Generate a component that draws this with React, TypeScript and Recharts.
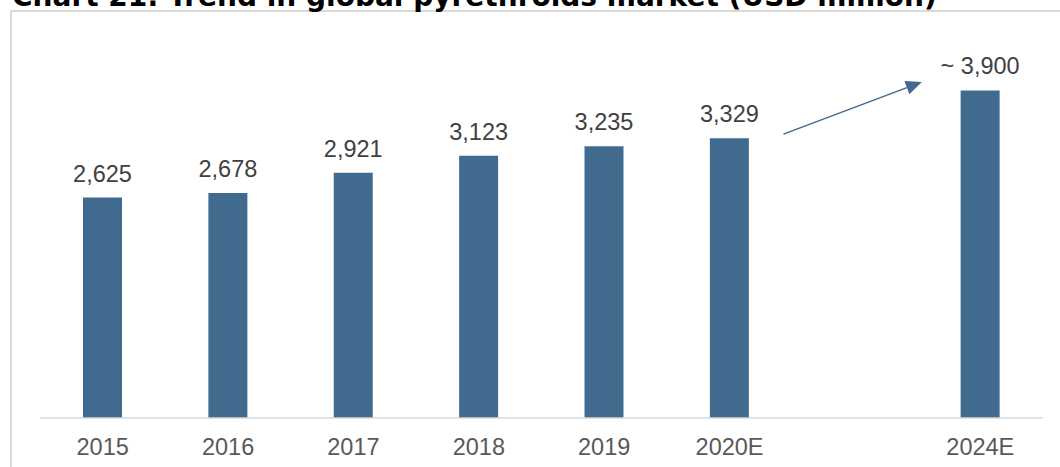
import { BarChart, Bar, XAxis, YAxis, LabelList, ReferenceLine } from "recharts";

const categories = ["2015", "2016", "2017", "2018", "2019", "2020E", " ", "2024E"];
const marketSize = [2625, 2678, 2921, 3123, 3235, 3329, null, 3900];
const approximate = [false, false, false, false, false, false, false, true];

// arrow between 2020E and 2024E, y in USD million
const arrowStart = { x: "2020E", y: 3380 };
const arrowEnd = { x: "2024E", y: 4000 };

const data = categories.map((year, i) => {
  const total = marketSize[i];
  let label: string | null = null;
  if (total != null) {
    const text = total.toLocaleString("en-US");
    // non-breaking space so the label stays on one line
    label = approximate[i] ? `~\u00A0${text}` : text;
  }
  return { year, total, label };
});

function TrendArrow(props: any) {
  const { x1, y1, x2, y2 } = props;
  const sx = x1 + (x2 - x1) * 0.215;
  const ex = x1 + (x2 - x1) * 0.767;
  const angle = Math.atan2(y2 - y1, ex - sx);
  const headLength = 16;
  const headHalf = 7;
  const cos = Math.cos(angle);
  const sin = Math.sin(angle);
  const bx = ex - headLength * cos;
  const by = y2 - headLength * sin;
  const points = [
    `${ex},${y2}`,
    `${bx - headHalf * sin},${by + headHalf * cos}`,
    `${bx + headHalf * sin},${by - headHalf * cos}`,
  ].join(" ");

  return (
    <g>
      <line x1={sx} y1={y1} x2={bx} y2={by} stroke="#41698F" strokeWidth={1.4} />
      <polygon points={points} fill="#41698F" />
    </g>
  );
}

export default function App() {
  return (
    <div
      style={{
        position: "absolute",
        left: 0,
        top: 0,
        width: 1060,
        height: 467,
        overflow: "hidden",
        background: "#fff",
      }}
    >
      <div
        style={{
          position: "absolute",
          left: 10,
          top: 10,
          width: 1100,
          height: 500,
          border: "2px solid #D9D9D9",
        }}
      />
      <svg
        width={1060}
        height={30}
        style={{ position: "absolute", left: 0, top: 0 }}
      >
        <text
          x={12}
          y={6}
          fontFamily="DejaVu Sans"
          fontWeight="bold"
          fontSize={28}
          fill="#000"
        >
          Chart 21: Trend in global pyrethroids market (USD million)
        </text>
      </svg>
      <div style={{ position: "absolute", left: 0, top: 0 }}>
        <BarChart
          width={1060}
          height={467}
          data={data}
          margin={{ top: 40, right: 17, left: 40, bottom: 0 }}
          style={{ fontFamily: "'Liberation Sans', Arial, sans-serif" }}
        >
          <XAxis
            dataKey="year"
            interval={0}
            height={49}
            tickLine={false}
            tickSize={6}
            tickMargin={14}
            axisLine={{ stroke: "#D9D9D9", strokeWidth: 1.5 }}
            tick={{ fontSize: 23.5, fill: "#595959" }}
          />
          <YAxis hide domain={[0, 4500]} />
          <Bar
            dataKey="total"
            fill="#416A8F"
            barSize={39}
            isAnimationActive={false}
          >
            <LabelList
              dataKey="label"
              position="top"
              offset={16}
              fill="#404040"
              fontSize={23.5}
            />
          </Bar>
          <ReferenceLine
            segment={[arrowStart, arrowEnd]}
            shape={TrendArrow}
            ifOverflow="visible"
          />
        </BarChart>
      </div>
    </div>
  );
}
